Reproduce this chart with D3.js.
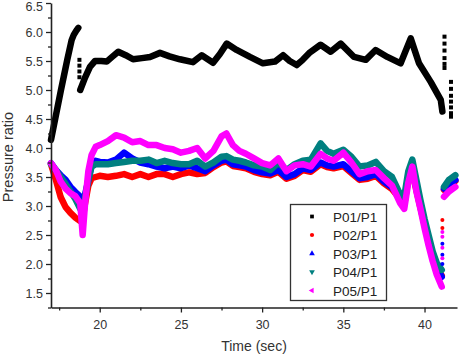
<!DOCTYPE html>
<html><head><meta charset="utf-8">
<script src="https://cdn.jsdelivr.net/npm/d3@7/dist/d3.min.js"></script>
<style>body{margin:0;background:#fff}svg{display:block}</style></head>
<body><svg id="c" width="464" height="358"></svg>
<script>
const seriesNames = ["P01/P1","P02/P1","P03/P1","P04/P1","P05/P1"];
const seriesColors = ["#000000","#ff0000","#0000ff","#008080","#ff00ff"];
const xTicks = [20,25,30,35,40];
const xMinorTicks = [17.5,22.5,27.5,32.5,37.5];
const yTicks = [1.5,2.0,2.5,3.0,3.5,4.0,4.5,5.0,5.5,6.0,6.5];
const yMinorTicks = [1.25,1.75,2.25,2.75,3.25,3.75,4.25,4.75,5.25,5.75,6.25];

// P01/P1 (black) – rising segment, main segment, sparse points
const p01TimeA = [17.0,17.2,17.4,17.6,17.8,18.0,18.27,18.4,18.55,18.68];
const p01ValA  = [4.14,4.42,4.70,4.98,5.25,5.52,5.86,5.95,6.02,6.07];
const p01TimeB = [18.80,19.09,19.40,19.71,20.1,20.43,20.8,21.14,21.6,22.05,22.6,23.1,23.71,24.3,24.94,25.74,26.28,26.98,27.4,27.82,28.43,29.25,30.05,30.79,31.29,31.7,32.13,32.5,32.95,33.6,34.22,34.84,35.66,36.38,36.99,37.71,38.53,39.15,39.66,40.38,41.0,41.1];
const p01ValB  = [5.00,5.21,5.40,5.50,5.50,5.49,5.58,5.66,5.60,5.53,5.55,5.57,5.64,5.58,5.53,5.48,5.60,5.47,5.62,5.80,5.69,5.57,5.46,5.49,5.60,5.50,5.43,5.52,5.65,5.78,5.66,5.80,5.57,5.52,5.69,5.57,5.46,5.89,5.46,5.14,4.83,4.63];
const p01DotsT = [18.75,18.75,18.75,18.75,41.23,41.23,41.23,41.23,41.23,41.23,41.63,41.63,41.63,41.63,41.63,41.63,41.63];
const p01DotsV = [5.52,5.42,5.32,5.22,5.92,5.80,5.68,5.55,5.45,5.38,5.14,5.02,4.90,4.80,4.70,4.60,4.54];

// P02..P05 share the time base (null = gap in the record)
const times = [17.0,17.3,17.6,17.9,18.2,18.5,18.8,18.95,19.1,19.3,19.5,19.75,20.0,20.5,21.0,21.5,22.0,22.5,23.0,23.5,24.0,24.5,25.0,25.5,26.0,26.5,27.0,27.5,27.8,28.2,28.6,29.0,29.5,30.0,30.5,31.0,31.5,32.0,32.5,33.0,33.6,34.0,34.4,35.0,35.5,36.0,36.5,37.0,37.5,38.0,38.5,38.75,39.0,39.25,39.5,39.75,40.0,40.25,40.5,40.75,41.06,41.13,41.2,41.5,41.9];
const p02 = [3.72,3.45,3.15,2.98,2.88,2.80,2.74,2.78,3.05,3.35,3.48,3.50,3.52,3.50,3.52,3.55,3.50,3.55,3.50,3.55,3.55,3.50,3.55,3.58,3.55,3.57,3.67,3.75,3.77,3.69,3.67,3.65,3.59,3.55,3.53,3.59,3.47,3.52,3.62,3.59,3.72,3.67,3.65,3.69,3.57,3.45,3.47,3.52,3.39,3.29,3.12,3.02,3.47,3.59,3.27,2.97,2.68,2.40,2.15,1.95,1.80,null,3.28,3.36,3.43];
const p03 = [3.74,3.62,3.53,3.45,3.33,3.24,3.16,3.05,3.20,3.45,3.70,3.78,3.76,3.75,3.80,3.92,3.82,3.75,3.72,3.68,3.65,3.68,3.65,3.70,3.65,3.60,3.70,3.78,3.80,3.72,3.70,3.68,3.62,3.58,3.56,3.62,3.50,3.55,3.65,3.62,3.75,3.70,3.68,3.72,3.60,3.48,3.50,3.55,3.42,3.32,3.15,3.05,3.50,3.62,3.30,3.00,2.70,2.40,2.15,1.95,1.78,null,3.30,3.38,3.45];
const p04 = [3.72,3.62,3.50,3.38,3.25,3.12,2.95,2.90,3.15,3.45,3.68,3.72,3.72,3.72,3.74,3.76,3.78,3.78,3.80,3.74,3.78,3.74,3.72,3.72,3.78,3.68,3.75,3.85,3.86,3.80,3.78,3.75,3.70,3.68,3.62,3.75,3.62,3.72,3.78,3.80,4.08,3.95,3.90,3.97,3.85,3.68,3.70,3.76,3.60,3.50,3.20,3.16,3.60,3.80,3.45,3.10,2.78,2.50,2.22,2.02,1.90,null,3.33,3.45,3.53];
const p05 = [3.74,3.62,3.42,3.30,3.22,3.17,3.05,2.50,3.05,3.60,3.88,4.02,4.05,4.12,4.22,4.18,4.10,4.12,4.05,4.05,4.00,3.98,3.92,3.95,4.00,3.82,3.95,4.20,4.25,4.05,3.95,3.90,3.82,3.74,3.70,3.82,3.60,3.70,3.72,3.68,3.90,3.82,3.78,3.92,3.75,3.55,3.60,3.62,3.48,3.35,3.05,2.95,3.40,3.68,3.25,2.95,2.62,2.32,2.05,1.82,1.61,null,3.16,3.25,3.33];
const dotsT = [41.1,41.1,41.1,41.1,41.1,41.1,41.1,41.1];
const p02DotsV = [2.76,2.62];
const p03DotsV = [2.35,2.16,2.00];
const p05DotsV = [2.55,2.47,2.28,2.10];

const svg = d3.select("#c");
const x = d3.scaleLinear().domain([17,42]).range([51,457]);
const y = d3.scaleLinear().domain([1.25,6.5]).range([307.5,3]);

const line = d3.line().defined(d => d[1] != null).x(d => x(d[0])).y(d => y(d[1]));
const zip = (t,v) => t.map((tt,i) => [tt, v[i]]);

const colored = [p02,p03,p04,p05];
const g = svg.append("g");

function band(pts, color, w) {
  g.append("path").datum(pts).attr("d", line).attr("fill","none")
   .attr("stroke", color).attr("stroke-width", w)
   .attr("stroke-linejoin","round").attr("stroke-linecap","round");
}
// black
band(zip(p01TimeA,p01ValA), seriesColors[0], 6.5);
band(zip(p01TimeB,p01ValB), seriesColors[0], 6.5);
g.selectAll(".d1").data(zip(p01DotsT,p01DotsV)).join("rect")
  .attr("x", d => x(d[0])-2).attr("y", d => y(d[1])-2).attr("width",4).attr("height",4).attr("fill","#000");
colored.forEach((s,i) => band(zip(times,s), seriesColors[i+1], 6.5));
const dotSets = [[p02DotsV,1],[p03DotsV,2],[p05DotsV,4]];
dotSets.forEach(([vals,ci]) => {
  g.selectAll(null).data(vals).join("circle")
   .attr("cx", x(dotsT[0])).attr("cy", d => y(d)).attr("r",2).attr("fill", seriesColors[ci]);
});

// axes
const axColor = "#222";
const xAxis = svg.append("g").attr("transform","translate(0,307.5)")
  .call(d3.axisBottom(x).tickValues(xTicks).tickSize(5).tickSizeOuter(0).tickFormat(d3.format("d")));
svg.append("g").attr("transform","translate(0,307.5)")
  .call(d3.axisBottom(x).tickValues(xMinorTicks).tickSize(3).tickSizeOuter(0).tickFormat(""))
  .select(".domain").remove();
const yAxis = svg.append("g").attr("transform","translate(51,0)")
  .call(d3.axisLeft(y).tickValues(yTicks).tickSize(5).tickSizeOuter(0).tickFormat(d3.format(".1f")));
svg.append("g").attr("transform","translate(51,0)")
  .call(d3.axisLeft(y).tickValues(yMinorTicks).tickSize(3).tickSizeOuter(0).tickFormat(""))
  .select(".domain").remove();
svg.selectAll(".domain").attr("stroke", axColor).attr("stroke-width",1.6);
svg.selectAll(".tick line").attr("stroke", axColor).attr("stroke-width",1.3);
svg.selectAll(".tick text").attr("font-family","Liberation Sans, Arial, sans-serif")
  .attr("font-size","12.5px").attr("fill","#333");
xAxis.selectAll(".tick text").attr("dy","1.05em");
// keep the top label just inside the picture
yAxis.selectAll(".tick").filter(d => d === 6.5).select("text").attr("dy","0.62em");

svg.append("text").attr("x",254).attr("y",351).attr("text-anchor","middle")
  .attr("font-family","Liberation Sans, Arial, sans-serif").attr("font-size","14px").attr("fill","#333")
  .text("Time (sec)");
svg.append("text").attr("transform","translate(13,157) rotate(-90)").attr("text-anchor","middle")
  .attr("font-family","Liberation Sans, Arial, sans-serif").attr("font-size","14.5px").attr("fill","#333")
  .text("Pressure ratio");

// legend
const lg = svg.append("g");
lg.append("rect").attr("x",290.5).attr("y",204.5).attr("width",96).attr("height",96)
  .attr("fill","#fff").attr("stroke","#333").attr("stroke-width",1.3);
const sym = [d3.symbolSquare, d3.symbolCircle, d3.symbolTriangle, d3.symbolTriangle, d3.symbolTriangle];
const rot = [0,0,0,180,-90];
seriesNames.forEach((n,i) => {
  const yy = 216.5 + i*18.5;
  lg.append("path").attr("d", d3.symbol().type(sym[i]).size(14)())
    .attr("transform",`translate(312,${yy}) rotate(${rot[i]})`).attr("fill", seriesColors[i]);
  lg.append("text").attr("x",333).attr("y",yy+5).attr("font-family","Liberation Sans, Arial, sans-serif")
    .attr("font-size","13.5px").attr("fill","#222").text(n);
});
</script></body></html>
